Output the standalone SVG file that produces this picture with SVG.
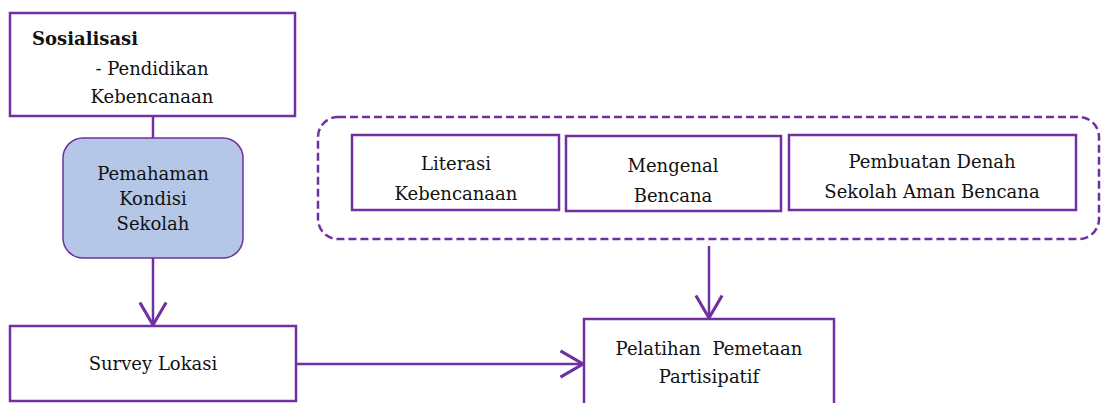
<svg xmlns="http://www.w3.org/2000/svg" width="1101" height="403" viewBox="0 0 1101 403">
<style>
.box{fill:#ffffff;stroke:#7030A0;stroke-width:2.5}
.rbox{fill:#B4C7E7;stroke:#7030A0;stroke-width:1.5}
.dash{fill:none;stroke:#7030A0;stroke-width:2.5;stroke-dasharray:8 4}
.con{fill:none;stroke:#7030A0;stroke-width:2.5}
text{font-family:"DejaVu Serif","Liberation Serif",serif;font-size:18px;fill:#111111}
.c{text-anchor:middle}
.b{font-weight:bold}
</style>
<defs>
<marker id="arr" markerUnits="userSpaceOnUse" markerWidth="30" markerHeight="30" viewBox="-20 -12 22 24" refX="0" refY="0" orient="auto">
<path d="M-18,-10.5 L0,0 L-18,10.5" fill="none" stroke="#7030A0" stroke-width="2.5"/>
</marker>
</defs>
<g id="connectors">
<line class="con" x1="153" y1="117" x2="153" y2="138"/>
<line class="con" x1="153" y1="258" x2="153" y2="325" marker-end="url(#arr)"/>
<line class="con" x1="296" y1="364" x2="583" y2="364" marker-end="url(#arr)"/>
<line class="con" x1="709" y1="246" x2="709" y2="318" marker-end="url(#arr)"/>
</g>
<g id="sosialisasi">
<rect class="box" x="10" y="13" width="285" height="103"/>
<text class="b" x="32" y="45">Sosialisasi</text>
<text class="c" x="152" y="75">- Pendidikan</text>
<text class="c" x="152" y="103">Kebencanaan</text>
</g>
<g id="pemahaman">
<rect class="rbox" x="63" y="138" width="180" height="120" rx="20" ry="20"/>
<text class="c" x="153" y="180">Pemahaman</text>
<text class="c" x="153" y="205">Kondisi</text>
<text class="c" x="153" y="230">Sekolah</text>
</g>
<g id="survey">
<rect class="box" x="10" y="326" width="286" height="75"/>
<text class="c" x="153" y="370">Survey Lokasi</text>
</g>
<g id="group-materi">
<rect class="dash" x="318" y="117" width="781" height="122" rx="20" ry="20"/>
</g>
<g id="literasi">
<rect class="box" x="352" y="135" width="207" height="75"/>
<text class="c" x="456" y="170">Literasi</text>
<text class="c" x="456" y="200">Kebencanaan</text>
</g>
<g id="mengenal">
<rect class="box" x="566" y="136" width="215" height="75"/>
<text class="c" x="673" y="172">Mengenal</text>
<text class="c" x="673" y="202">Bencana</text>
</g>
<g id="pembuatan">
<rect class="box" x="789" y="135" width="287" height="75"/>
<text class="c" x="932" y="168">Pembuatan Denah</text>
<text class="c" x="932" y="198">Sekolah Aman Bencana</text>
</g>
<g id="pelatihan">
<rect class="box" x="584" y="319" width="250" height="100"/>
<text class="c" x="709" y="355" xml:space="preserve">Pelatihan  Pemetaan</text>
<text class="c" x="709" y="383">Partisipatif</text>
</g>
</svg>
